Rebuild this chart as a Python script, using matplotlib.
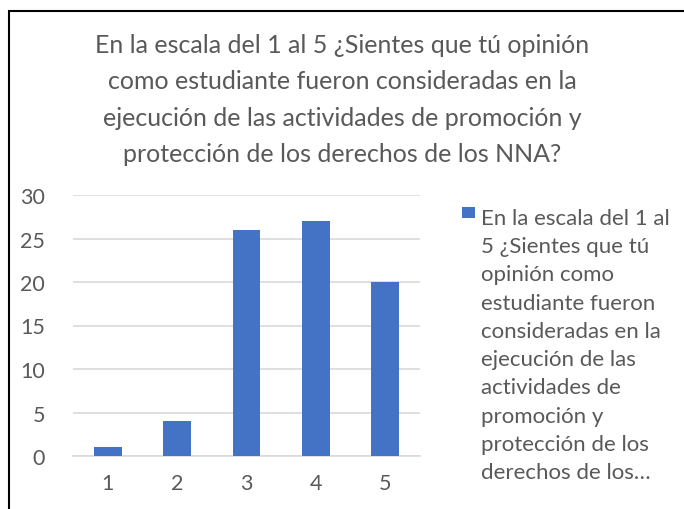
import matplotlib
matplotlib.use("Agg")
import matplotlib.pyplot as plt
from matplotlib.patches import Rectangle

categories = ["1", "2", "3", "4", "5"]
values = [1, 4, 26, 27, 20]
yticks = [0, 5, 10, 15, 20, 25, 30]
title = ("En la escala del 1 al 5 ¿Sientes que tú opinión\n"
         "como estudiante fueron consideradas en la\n"
         "ejecución de las actividades de promoción y\n"
         "protección de los derechos de los NNA?")
legend_label = ("En la escala del 1 al\n5 ¿Sientes que tú\nopinión como\n"
                "estudiante fueron\nconsideradas en la\nejecución de las\n"
                "actividades de\npromoción y\nprotección de los\nderechos de los…")

plt.rcParams['font.family'] = ['Lato', 'DejaVu Sans']
txt = '#595959'
bar_color = '#4472C4'

fig = plt.figure(figsize=(6.84, 5.10), dpi=100)
fig.patches.append(Rectangle((9/684, -0.1), 1.2, 1 - 12/510 + 0.1, transform=fig.transFigure,
                             fill=False, edgecolor='black', linewidth=1.5))

ax = fig.add_axes([73/684, 1 - 457/510, 347/684, (457 - 196)/510])
x = range(len(categories))
ax.bar(x, values, width=0.4, color=bar_color, zorder=3)
ax.set_xlim(-0.5, 4.5)
ax.set_ylim(0, 30)
ax.set_yticks(yticks)
ax.set_xticks(list(x))
ax.set_xticklabels(categories)
ax.grid(axis='y', color='#d9d9d9', linewidth=1.2, zorder=0)
for s in ['top', 'right', 'left']:
    ax.spines[s].set_visible(False)
ax.spines['bottom'].set_color('#d9d9d9')
ax.spines['bottom'].set_linewidth(1.2)
ax.tick_params(axis='both', length=0, colors=txt, labelsize=15.5)
ax.tick_params(axis='y', pad=20)
ax.tick_params(axis='x', pad=12)

fig.text(342/684, 1 - 100/510, title, ha='center', va='center', fontsize=18,
         color=txt, linespacing=1.7)

# legend
fig.patches.append(Rectangle((462/684, 1 - 219/510), 13/684, 11/510, transform=fig.transFigure,
                             facecolor=bar_color, edgecolor='none'))
fig.text(481/684, 1 - 346/510, legend_label, ha='left', va='center', fontsize=16,
         color=txt, linespacing=1.52)

fig.savefig('out.png', dpi=100)
